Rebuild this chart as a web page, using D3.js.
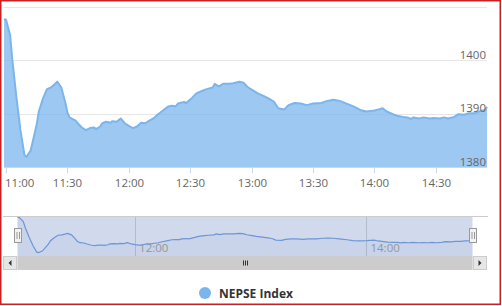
<!DOCTYPE html>
<html>
<head>
<meta charset="utf-8">
<script src="https://cdn.jsdelivr.net/npm/d3@7"></script>
<style>
  html, body { margin: 0; padding: 0; background: #fff; }
  svg { display: block; }
  text { font-family: "Open Sans", "DejaVu Sans", sans-serif; }
</style>
</head>
<body>
<div id="chart"></div>
<script>
// NEPSE Index intraday
var times = [
  "10:59", "11:00", "11:02", "11:03", "11:05", "11:07", "11:09", "11:10", "11:12", "11:13",
  "11:15", "11:16", "11:18", "11:20", "11:22", "11:24", "11:25", "11:27", "11:29", "11:30",
  "11:31", "11:34", "11:35", "11:37", "11:39", "11:41", "11:43", "11:44", "11:46", "11:47",
  "11:49", "11:51", "11:52", "11:54", "11:56", "11:58", "12:00", "12:02", "12:04", "12:06",
  "12:08", "12:10", "12:12", "12:14", "12:17", "12:19", "12:21", "12:23", "12:24", "12:27",
  "12:28", "12:31", "12:33", "12:36", "12:38", "12:41", "12:42", "12:44", "12:46", "12:49",
  "12:51", "12:54", "12:56", "12:58", "13:00", "13:03", "13:06", "13:08", "13:11", "13:13",
  "13:16", "13:18", "13:21", "13:24", "13:27", "13:30", "13:34", "13:37", "13:40", "13:43",
  "13:47", "13:50", "13:53", "13:56", "14:00", "14:02", "14:04", "14:06", "14:09", "14:11",
  "14:14", "14:16", "14:18", "14:19", "14:22", "14:24", "14:27", "14:29", "14:32", "14:34",
  "14:36", "14:39", "14:41", "14:44", "14:46", "14:49", "14:51", "14:54", "14:55"
];
var values = [
  1407.7, 1407.6, 1404.7, 1400.3, 1393.3, 1387.0, 1382.2, 1381.9, 1383.1, 1384.7,
  1388.0, 1390.4, 1392.8, 1394.6, 1394.9, 1395.6, 1396.0, 1394.9, 1392.0, 1390.2,
  1389.3, 1388.7, 1388.2, 1387.4, 1386.9, 1387.3, 1387.4, 1387.1, 1387.6, 1388.2,
  1388.5, 1388.3, 1388.6, 1388.5, 1389.1, 1388.2, 1387.7, 1387.3, 1387.6, 1388.3,
  1388.2, 1388.7, 1389.1, 1389.8, 1390.7, 1391.3, 1391.5, 1391.4, 1391.9, 1392.2,
  1392.0, 1393.0, 1393.8, 1394.3, 1394.6, 1394.9, 1395.6, 1395.1, 1395.6, 1395.6,
  1395.7, 1396.0, 1395.8, 1395.0, 1394.5, 1393.8, 1393.3, 1392.9, 1392.2, 1391.0,
  1390.8, 1391.6, 1392.0, 1391.9, 1391.6, 1391.9, 1392.0, 1392.4, 1392.6, 1392.4,
  1391.8, 1391.3, 1390.7, 1390.4, 1390.6, 1390.8, 1391.0, 1390.4, 1389.9, 1389.6,
  1389.4, 1389.3, 1389.0, 1389.3, 1389.1, 1389.3, 1389.1, 1389.2, 1389.1, 1389.3,
  1389.1, 1389.4, 1389.9, 1389.8, 1390.1, 1390.1, 1390.4, 1390.7, 1391.3
];
var xTicks = ["11:00", "11:30", "12:00", "12:30", "13:00", "13:30", "14:00", "14:30"];
var navTicks = ["12:00", "14:00"];
var yTicks = [1380, 1390, 1400, 1410];
var yLabels = [1380, 1390, 1400];
var seriesName = "NEPSE Index";

(function () {
  var width = 502, height = 306;
  var parse = d3.timeParse("%H:%M");
  var data = times.map(function (t, i) { return { t: parse(t), v: values[i] }; });
  var color = "#7cb5ec";

  var svg = d3.select("#chart").append("svg")
    .attr("width", width).attr("height", height);

  // main plot
  var x = d3.scaleTime().domain(d3.extent(data, function (d) { return d.t; })).range([4, 487]);
  var y = d3.scaleLinear().domain([1380, 1410]).range([167, 7]);

  svg.append("g").selectAll("line").data(yTicks).enter().append("line")
    .attr("x1", 4).attr("x2", 487)
    .attr("y1", function (d) { return Math.round(y(d)) + 0.5; })
    .attr("y2", function (d) { return Math.round(y(d)) + 0.5; })
    .attr("stroke", "#e6e6e6");

  var area = d3.area().x(function (d) { return x(d.t); })
    .y0(y(1380)).y1(function (d) { return y(d.v); });
  var line = d3.line().x(function (d) { return x(d.t); }).y(function (d) { return y(d.v); });

  svg.append("path").datum(data).attr("d", area)
    .attr("fill", color).attr("fill-opacity", 0.75);
  svg.append("path").datum(data).attr("d", line)
    .attr("fill", "none").attr("stroke", color).attr("stroke-width", 2)
    .attr("stroke-linejoin", "round");

  // x axis
  var xg = svg.append("g");
  xg.append("line").attr("x1", 4).attr("x2", 487).attr("y1", 167.5).attr("y2", 167.5)
    .attr("stroke", "#ccd6eb");
  var xt = xg.selectAll("g").data(xTicks.map(parse)).enter().append("g")
    .attr("transform", function (d) { return "translate(" + (Math.round(x(d)) + 0.5) + ",0)"; });
  xt.append("line").attr("y1", 167).attr("y2", 173).attr("stroke", "#ccd6eb");
  xt.append("text").attr("y", 187).attr("text-anchor", "middle")
    .attr("font-size", "11.5px").attr("fill", "#666")
    .text(d3.timeFormat("%H:%M"))
    .each(function (d) {
      // keep the first label inside the chart, as Highcharts does
      var w = this.getComputedTextLength();
      var left = Math.round(x(d)) + 0.5 - w / 2;
      if (left < 5) d3.select(this).attr("x", 5 - left);
    });

  // y labels, inside on the right
  svg.append("g").selectAll("text").data(yLabels).enter().append("text")
    .attr("x", 486).attr("y", function (d) { return y(d) - 1.5; })
    .attr("text-anchor", "end").attr("font-size", "11.5px").attr("fill", "#666")
    .text(function (d) { return d; });

  // navigator
  var navTop = 216, navBottom = 256;
  var nx = d3.scaleTime().domain(x.domain()).range([17.5, 472.5]);
  var ny = d3.scaleLinear().domain(d3.extent(values)).range([252.5, 217.5]);

  var nav = svg.append("g");
  nav.append("rect").attr("x", nx.range()[0]).attr("y", navTop)
    .attr("width", nx.range()[1] - nx.range()[0]).attr("height", navBottom - navTop)
    .attr("fill", "rgba(102,133,194,0.3)");
  nav.selectAll("line.grid").data(navTicks.map(parse)).enter().append("line")
    .attr("class", "grid")
    .attr("x1", function (d) { return Math.round(nx(d)) + 0.5; })
    .attr("x2", function (d) { return Math.round(nx(d)) + 0.5; })
    .attr("y1", navTop).attr("y2", navBottom)
    .attr("stroke", "#b4bccc");
  nav.selectAll("text").data(navTicks.map(parse)).enter().append("text")
    .attr("x", function (d) { return nx(d) + 4; }).attr("y", 252)
    .attr("font-size", "11.5px").attr("fill", "#999")
    .text(d3.timeFormat("%H:%M"));

  var narea = d3.area().x(function (d) { return nx(d.t); })
    .y0(navBottom).y1(function (d) { return ny(d.v); });
  var nline = d3.line().x(function (d) { return nx(d.t); }).y(function (d) { return ny(d.v); });
  nav.append("path").datum(data).attr("d", narea).attr("fill", "#335cad").attr("fill-opacity", 0.05);
  nav.append("path").datum(data).attr("d", nline)
    .attr("fill", "none").attr("stroke", "#6d95d8").attr("stroke-width", 1.2);

  nav.append("line").attr("x1", 3).attr("x2", 488).attr("y1", navTop + 0.5).attr("y2", navTop + 0.5)
    .attr("stroke", "#cccccc");

  // handles
  nx.range().forEach(function (hx) {
    var h = nav.append("g").attr("transform", "translate(" + Math.round(hx) + ",228)");
    h.append("rect").attr("x", -3.5).attr("y", 0.5).attr("width", 7).attr("height", 14)
      .attr("fill", "#f2f2f2").attr("stroke", "#999");
    h.append("line").attr("x1", -1).attr("x2", -1).attr("y1", 4).attr("y2", 11).attr("stroke", "#999");
    h.append("line").attr("x1", 1.5).attr("x2", 1.5).attr("y1", 4).attr("y2", 11).attr("stroke", "#999");
  });

  // scrollbar
  var sb = svg.append("g").attr("transform", "translate(0,256)");
  sb.append("rect").attr("x", 3).attr("y", 0).attr("width", 484).attr("height", 14).attr("fill", "#f2f2f2");
  sb.append("rect").attr("x", nx.range()[0]).attr("y", 0)
    .attr("width", nx.range()[1] - nx.range()[0]).attr("height", 14).attr("fill", "#cccccc");
  sb.append("rect").attr("x", 3.5).attr("y", 0.5).attr("width", 13).attr("height", 13)
    .attr("fill", "#e6e6e6").attr("stroke", "#cccccc");
  sb.append("rect").attr("x", 473.5).attr("y", 0.5).attr("width", 13).attr("height", 13)
    .attr("fill", "#e6e6e6").attr("stroke", "#cccccc");
  sb.append("path").attr("d", "M8.5,7 L11.5,4 L11.5,10 Z").attr("fill", "#333");
  sb.append("path").attr("d", "M481.5,7 L478.5,4 L478.5,10 Z").attr("fill", "#333");
  var cx = Math.round((nx.range()[0] + nx.range()[1]) / 2);
  [-2, 0, 2].forEach(function (o) {
    sb.append("line").attr("x1", cx + o + 0.5).attr("x2", cx + o + 0.5)
      .attr("y1", 4.5).attr("y2", 9.5).attr("stroke", "#333");
  });

  // legend
  var lg = svg.append("g");
  lg.append("circle").attr("cx", 205).attr("cy", 293).attr("r", 6).attr("fill", color);
  lg.append("text").attr("x", 219).attr("y", 297.5)
    .attr("font-size", "12px").attr("font-weight", "bold").attr("fill", "#333")
    .text(seriesName);

  // frame
  svg.append("rect").attr("x", 0.75).attr("y", 0.75).attr("width", 499.5).attr("height", 303.5)
    .attr("fill", "none").attr("stroke", "#cc1f1f").attr("stroke-width", 1.5);
})();
</script>
</body>
</html>
